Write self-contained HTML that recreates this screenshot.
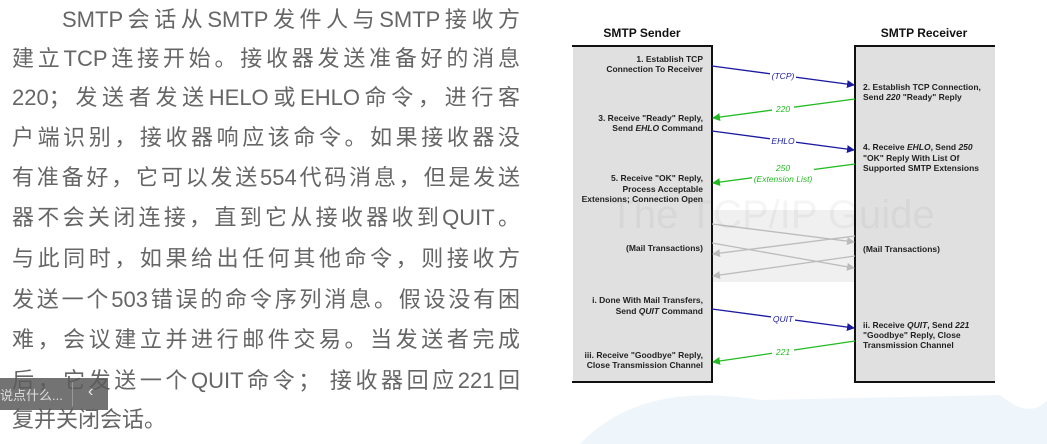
<!DOCTYPE html>
<html><head><meta charset="utf-8"><style>
body{margin:0;width:1047px;height:444px;overflow:hidden;background:#fff;position:relative;font-family:"Liberation Sans","Noto Sans CJK SC",sans-serif}
.l{position:absolute;left:12px;width:508px;font-size:22px;color:#666;white-space:nowrap;text-align:justify;text-align-last:justify;line-height:30px}
.bar{position:absolute;left:0;top:378px;width:108px;height:32px;background:rgba(90,90,90,0.85)}
</style></head><body>
<div class="l" style="top:5px;left:62px;width:458px">SMTP会话从SMTP发件人与SMTP接收方</div>
<div class="l" style="top:44px">建立TCP连接开始。接收器发送准备好的消息</div>
<div class="l" style="top:83px">220；发送者发送HELO或EHLO命令，进行客</div>
<div class="l" style="top:123px">户端识别，接收器响应该命令。如果接收器没</div>
<div class="l" style="top:163px">有准备好，它可以发送554代码消息，但是发送</div>
<div class="l" style="top:203px">器不会关闭连接，直到它从接收器收到QUIT。</div>
<div class="l" style="top:244px">与此同时，如果给出任何其他命令，则接收方</div>
<div class="l" style="top:285px">发送一个503错误的命令序列消息。假设没有困</div>
<div class="l" style="top:325px">难，会议建立并进行邮件交易。当发送者完成</div>
<div class="l" style="top:366px">后，它发送一个QUIT命令； 接收器回应221回</div>
<div class="l" style="top:405px;text-align-last:left;width:auto">复并关闭会话。</div>
<div class="bar"><span style="position:absolute;left:0;top:7px;font-size:13px;color:#ddd">说点什么...</span><span style="position:absolute;left:72px;top:4px;width:1px;height:24px;background:#999"></span><span style="position:absolute;left:88px;top:5px;font-size:16px;color:#eee">‹</span></div>
<svg width="1047" height="444" style="position:absolute;left:0;top:0" font-family="Liberation Sans,Arial,sans-serif">
<defs>
<marker id="b" markerWidth="8" markerHeight="8" refX="7" refY="4" orient="auto" markerUnits="userSpaceOnUse"><path d="M0,0L8,4L0,8z" fill="#1a1aa0"/></marker>
<marker id="g" markerWidth="8" markerHeight="8" refX="7" refY="4" orient="auto" markerUnits="userSpaceOnUse"><path d="M0,0L8,4L0,8z" fill="#22bb22"/></marker>
<marker id="k" markerWidth="8" markerHeight="8" refX="7" refY="4" orient="auto" markerUnits="userSpaceOnUse"><path d="M0,0L8,4L0,8z" fill="#bbb"/></marker>
</defs>
<path d="M580,444 Q640,380 760,400 L1000,395 Q1030,420 1047,400 L1047,444Z" fill="#eef6fc"/>
<rect x="573" y="46" width="138" height="335" fill="#e0e0e0"/>
<rect x="855" y="46" width="140" height="335" fill="#e0e0e0"/>
<rect x="711" y="210" width="144" height="72" fill="#f0f0f0"/>
<path d="M572,46H712V382H572" fill="none" stroke="#111" stroke-width="2"/>
<path d="M995,46H855V382H995" fill="none" stroke="#111" stroke-width="2"/>
<text x="642" y="37" font-size="12" font-weight="bold" text-anchor="middle" fill="#111">SMTP Sender</text>
<text x="924" y="37" font-size="12" font-weight="bold" text-anchor="middle" fill="#111">SMTP Receiver</text>
<g font-size="8.5" font-weight="bold" fill="#222" text-anchor="end">
<text x="703" y="62">1. Establish TCP</text><text x="703" y="72">Connection To Receiver</text>
<text x="703" y="121">3. Receive "Ready" Reply,</text><text x="703" y="131">Send <tspan font-style="italic">EHLO</tspan> Command</text>
<text x="703" y="181">5. Receive "OK" Reply,</text><text x="703" y="192">Process Acceptable</text><text x="703" y="202">Extensions; Connection Open</text>
<text x="703" y="251">(Mail Transactions)</text>
<text x="703" y="303">i. Done With Mail Transfers,</text><text x="703" y="314">Send <tspan font-style="italic">QUIT</tspan> Command</text>
<text x="703" y="358">iii. Receive "Goodbye" Reply,</text><text x="703" y="368">Close Transmission Channel</text>
</g>
<g font-size="8.5" font-weight="bold" fill="#222">
<text x="863" y="90">2. Establish TCP Connection,</text><text x="863" y="100">Send <tspan font-style="italic">220</tspan> "Ready" Reply</text>
<text x="863" y="150">4. Receive <tspan font-style="italic">EHLO</tspan>, Send <tspan font-style="italic">250</tspan></text><text x="863" y="161">"OK" Reply With List Of</text><text x="863" y="171">Supported SMTP Extensions</text>
<text x="863" y="252">(Mail Transactions)</text>
<text x="863" y="328">ii. Receive <tspan font-style="italic">QUIT</tspan>, Send <tspan font-style="italic">221</tspan></text><text x="863" y="338">"Goodbye" Reply, Close</text><text x="863" y="348">Transmission Channel</text>
</g>
<g stroke-width="1.3" fill="none">
<line x1="712" y1="66" x2="854" y2="85" stroke="#1a1aa0" marker-end="url(#b)"/>
<line x1="855" y1="99" x2="713" y2="118" stroke="#22bb22" marker-end="url(#g)"/>
<line x1="712" y1="131" x2="854" y2="150" stroke="#1a1aa0" marker-end="url(#b)"/>
<line x1="855" y1="164" x2="713" y2="183" stroke="#22bb22" marker-end="url(#g)"/>
<line x1="712" y1="309" x2="854" y2="328" stroke="#1a1aa0" marker-end="url(#b)"/>
<line x1="855" y1="341" x2="713" y2="362" stroke="#22bb22" marker-end="url(#g)"/>
<line x1="712" y1="224" x2="854" y2="242" stroke="#bbb" marker-end="url(#k)"/>
<line x1="855" y1="236" x2="713" y2="254" stroke="#bbb" marker-end="url(#k)"/>
<line x1="712" y1="243" x2="854" y2="268" stroke="#bbb" marker-end="url(#k)"/>
<line x1="855" y1="256" x2="713" y2="276" stroke="#bbb" marker-end="url(#k)"/>
</g>
<g font-size="8.5" font-style="italic" text-anchor="middle">
<rect x="770" y="70" width="26" height="10" fill="#fff"/><text x="783" y="79" fill="#1a1aa0">(TCP)</text>
<rect x="772" y="103" width="22" height="10" fill="#fff"/><text x="783" y="112" fill="#22bb22">220</text>
<rect x="770" y="136" width="26" height="10" fill="#fff"/><text x="783" y="144" fill="#1a1aa0">EHLO</text>
<rect x="752" y="163" width="62" height="21" fill="#fff"/><text x="783" y="171" fill="#22bb22">250</text><text x="783" y="182" fill="#22bb22">(Extension List)</text>
<rect x="771" y="313" width="24" height="10" fill="#fff"/><text x="783" y="322" fill="#1a1aa0">QUIT</text>
<rect x="772" y="346" width="22" height="10" fill="#fff"/><text x="783" y="355" fill="#22bb22">221</text>
</g>
<text x="772" y="228" font-size="40" fill="#000" fill-opacity="0.04" text-anchor="middle">The TCP/IP Guide</text>
</svg>
</body></html>
